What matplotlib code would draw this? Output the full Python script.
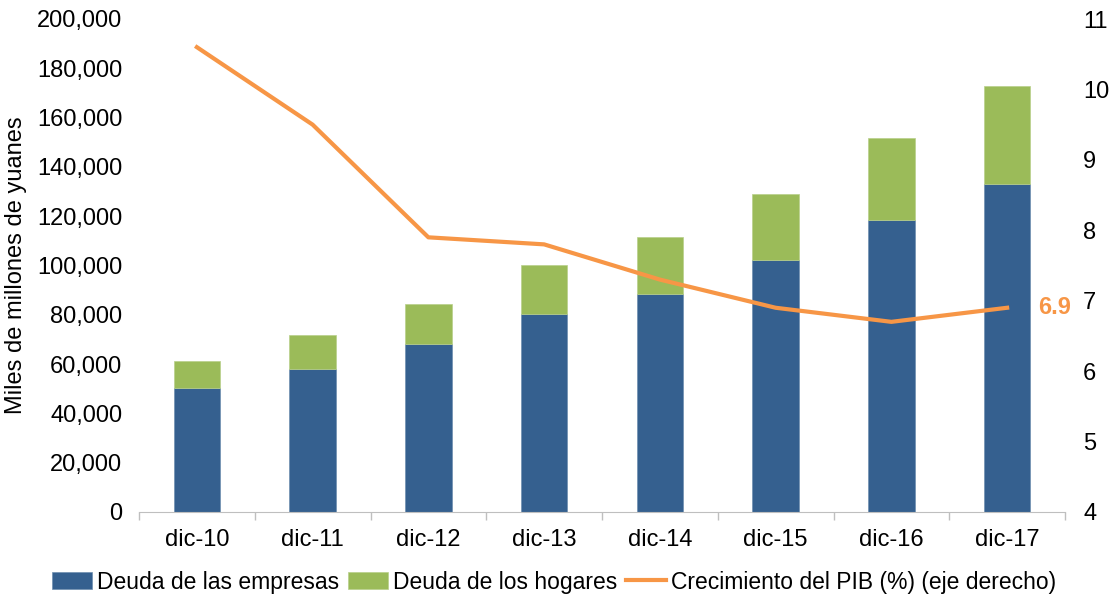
import matplotlib
matplotlib.use("Agg")
import matplotlib.pyplot as plt
from matplotlib.ticker import FuncFormatter, MultipleLocator
import numpy as np

plt.rcParams['font.family'] = ['Liberation Sans', 'DejaVu Sans']

categories = ["dic-10", "dic-11", "dic-12", "dic-13", "dic-14", "dic-15", "dic-16", "dic-17"]
deuda_empresas = [50300, 58000, 68100, 80300, 88400, 102200, 118400, 133000]
deuda_total = [61300, 71800, 84400, 100200, 111600, 129000, 151700, 172800]
deuda_hogares = [t - e for t, e in zip(deuda_total, deuda_empresas)]
pib = [10.6, 9.5, 7.9, 7.8, 7.3, 6.9, 6.7, 6.9]

blue = "#35608F"
green = "#9BBB59"
orange = "#F79646"
fs = 17

fig = plt.figure(figsize=(11.15, 6.0), dpi=100)
ax = fig.add_axes([139/1115, 1 - 512/600, (1065-139)/1115, (512-19)/600])
x = np.arange(len(categories))
ax.bar(x, deuda_empresas, width=0.4, color=blue, edgecolor="#6f8fb0", linewidth=0.5, label="Deuda de las empresas", zorder=2)
ax.bar(x, deuda_hogares, width=0.4, bottom=deuda_empresas, color=green, edgecolor="#b9d08a", linewidth=0.5, label="Deuda de los hogares", zorder=2)
ax.set_xlim(-0.5, len(categories) - 0.5)
ax.set_ylim(0, 200000)
ax.yaxis.set_major_locator(MultipleLocator(20000))
ax.yaxis.set_major_formatter(FuncFormatter(lambda v, p: f"{int(v):,}"))
ax.set_xticks(x)
ax.set_xticklabels(categories)
ax.set_xticks(np.arange(-0.5, len(categories), 1.0), minor=True)
ax.tick_params(axis='x', which='major', length=0, pad=12, labelsize=fs)
ax.tick_params(axis='x', which='minor', length=6, color="#bfbfbf", width=1)
ax.tick_params(axis='y', length=0, labelsize=fs, pad=12)
for s in ["top", "right", "left"]:
    ax.spines[s].set_visible(False)
ax.spines["bottom"].set_color("#bfbfbf")
ax.set_ylabel("Miles de millones de yuanes", fontsize=fs, labelpad=7)

ax2 = ax.twinx()
ax2.plot(x, pib, color=orange, linewidth=3, label="Crecimiento del PIB (%) (eje derecho)", zorder=3)
ax2.set_ylim(4, 11)
ax2.yaxis.set_major_locator(MultipleLocator(1))
ax2.tick_params(axis='y', length=0, labelsize=fs, pad=13)
for s in ["top", "right", "left", "bottom"]:
    ax2.spines[s].set_visible(False)
ax2.annotate(f"{pib[-1]}", xy=(x[-1], pib[-1]), xytext=(22, 0), textcoords="offset points",
             color=orange, fontsize=fs, fontweight="bold", va="center", ha="left")

h1, l1 = ax.get_legend_handles_labels()
h2, l2 = ax2.get_legend_handles_labels()
fig.legend(h1 + h2, l1 + l2, loc="center", bbox_to_anchor=(554/1115, 1 - 582/600), ncol=3,
           frameon=False, fontsize=16.5, handlelength=1.75, handleheight=0.7, handletextpad=0.2,
           columnspacing=0.4, borderpad=0)

fig.savefig("out.png", dpi=100)
